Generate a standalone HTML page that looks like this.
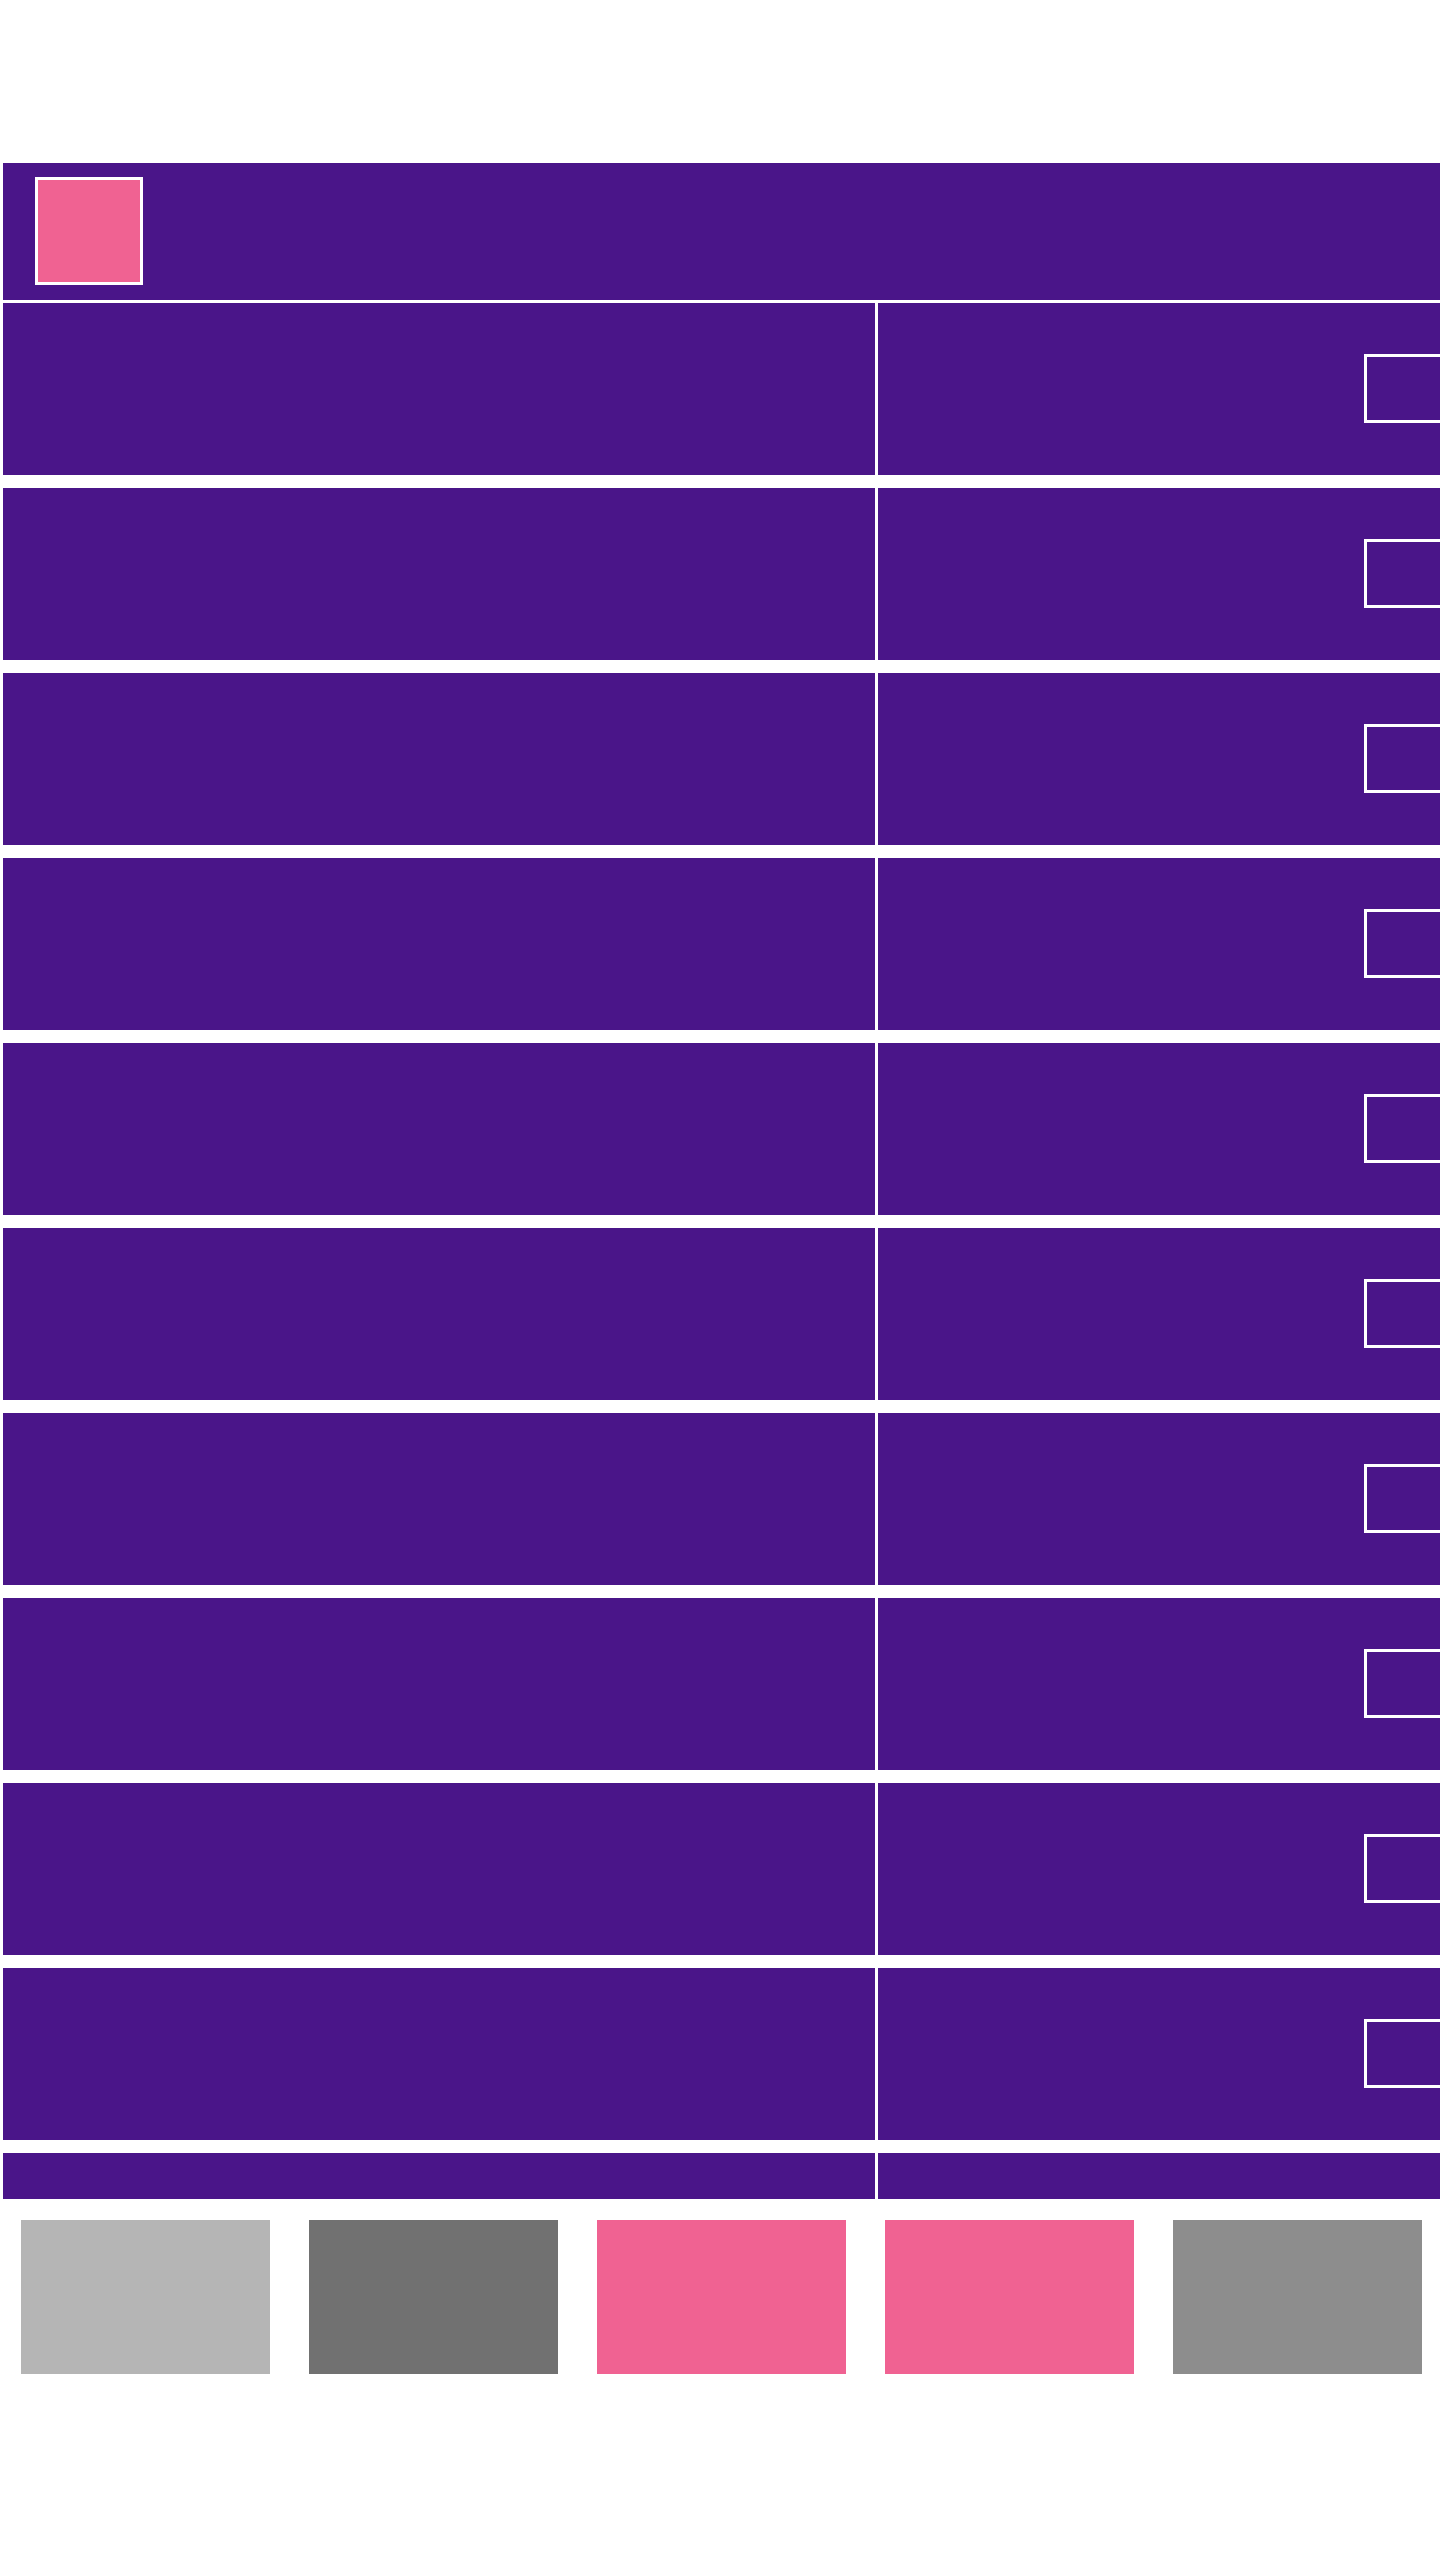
<!DOCTYPE html>
<html><head><meta charset="utf-8"><style>
html,body{margin:0;padding:0;background:#fff;width:1440px;height:2560px;overflow:hidden;position:relative;font-family:"Liberation Sans",sans-serif}
div{position:absolute;box-sizing:border-box}
.p{background:#4a1589}
.row{left:3px;width:1437px}
.cl{left:0;top:0;width:872px;height:100%;background:#4a1589}
.cr{left:875px;top:0;right:0;height:100%;background:#4a1589}
.cb{left:486px;width:80px;height:69px;border:3px solid #fff}
.sw{top:2220px;width:249px;height:154px}
</style></head><body>
<div class="p" style="left:3px;top:163px;width:1437px;height:137px">
  <div style="left:32px;top:14px;width:108px;height:108px;background:#f06292;border:3px solid #fff"></div>
</div>
<div id="rows"></div>
<div class="sw" style="left:21px;background:#b5b5b5"></div>
<div class="sw" style="left:309px;background:#717171"></div>
<div class="sw" style="left:597px;background:#f06292"></div>
<div class="sw" style="left:885px;background:#f06292"></div>
<div class="sw" style="left:1173px;background:#8d8d8d"></div>
<script>
const rowCount = 10;
const container = document.getElementById('rows');
for (let i = 0; i < rowCount; i++) {
  const top = 303 + i * 185;
  const r = document.createElement('div');
  r.className = 'row';
  r.style.top = top + 'px';
  r.style.height = '172px';
  
  
  const l = document.createElement('div'); l.className = 'cl';
  
  
  const rc = document.createElement('div'); rc.className = 'cr';
  
  
  const cb = document.createElement('div'); cb.className = 'cb';
  cb.style.top = '51px';
  
  
  rc.appendChild(cb);
  r.appendChild(l); r.appendChild(rc);
  container.appendChild(r);
}
const last = document.createElement('div');
last.className = 'row';
last.style.top = '2153px';
last.style.height = '46px';


const ll = document.createElement('div'); ll.className = 'cl';


const lr = document.createElement('div'); lr.className = 'cr';


last.appendChild(ll); last.appendChild(lr);
container.appendChild(last);
</script>
</body></html>
